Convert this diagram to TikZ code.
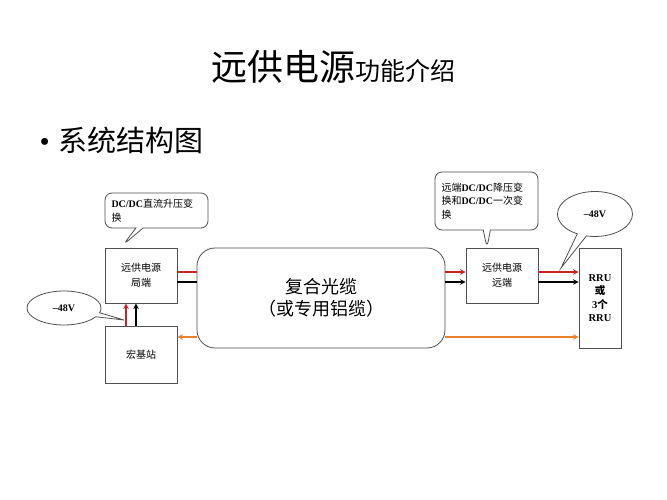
\documentclass[tikz,border=0pt]{standalone}
\usepackage{fontspec}
\setmainfont{Liberation Serif}
\newfontfamily\cjk{Noto Sans CJK SC}
\newcommand{\lat}[1]{{\rmfamily\bfseries #1}}
\usetikzlibrary{shapes.callouts,positioning}

\definecolor{cred}{RGB}{204,34,34}
\definecolor{corange}{RGB}{232,128,44}
\definecolor{cgray}{RGB}{80,80,80}

\begin{document}
\begin{tikzpicture}[x=1pt,y=-1pt,>=stealth,
    box/.style={draw=cgray,fill=white,line width=0.8pt,minimum width=72pt,
                minimum height=55pt,align=center,font=\cjk\fontsize{10}{15}\selectfont},
    cable/.style={draw=cgray,fill=white,line width=0.8pt,rounded corners=18pt,
                  minimum width=248pt,minimum height=100pt,align=center,
                  font=\cjk\fontsize{18}{22}\selectfont},
    note/.style={rectangle callout,draw=cgray,fill=white,line width=0.8pt,
                 rounded corners=7pt,align=left,inner sep=6pt,anchor=center,
                 font=\cjk\fontsize{10}{13.5}\selectfont},
    volt/.style={ellipse callout,draw=cgray,fill=white,line width=0.8pt,
                 font=\bfseries\fontsize{10}{12}\selectfont},
    redline/.style={draw=cred,line width=1.5pt},
    blackline/.style={draw=black,line width=1.5pt},
    orangeline/.style={draw=corange,line width=1.5pt}]
  \useasboundingbox (0,0) rectangle (667,500);

  % title
  \node (title) at (333,67) {\cjk\fontsize{36}{40}\selectfont 远供电源\fontsize{25}{28}\selectfont 功能介绍};
  \node[anchor=west] (head) at (36,140) {\fontsize{29}{32}\selectfont •\hspace{9pt}{\cjk 系统结构图}};

  % blocks
  \node[box] (ju) at (141,275.5) {远供电源\\局端};
  \node[box,minimum height=57pt] (hong) at (141,354.5) {宏基站};
  \node[cable] (cable) at (321,298) {复合光缆\\（或专用铝缆）};
  \node[box] (yuan) at (502,275.5) {远供电源\\远端};
  \node[box,minimum width=42pt,minimum height=100pt,font=\bfseries\fontsize{10.5}{13.5}\selectfont]
    (rru) at (600,298) {RRU\\{\cjk\bfseries 或}\\3{\cjk\bfseries 个}\\RRU};

  % helper points
  \coordinate (jr) at ([yshift=3.5pt]ju.east);
  \coordinate (jb) at ([yshift=-6.5pt]ju.east);
  \coordinate (yr) at ([yshift=3.5pt]yuan.east);
  \coordinate (yb) at ([yshift=-6.5pt]yuan.east);
  \coordinate (ho) at ([yshift=17.5pt]hong.east);
  \coordinate (hr) at ([xshift=-15pt]hong.north);
  \coordinate (hb) at ([xshift=-5pt]hong.north);

  % connectors
  \draw[redline] (jr) -- (jr -| cable.west);
  \draw[blackline] (jb) -- (jb -| cable.west);
  \draw[redline,->] (jr -| cable.east) -- (jr -| yuan.west);
  \draw[blackline,->] (jb -| cable.east) -- (jb -| yuan.west);
  \draw[redline,->] (yr) -- (yr -| rru.west);
  \draw[blackline,->] (yb) -- (yb -| rru.west);
  \draw[orangeline,->] (ho -| cable.west) -- (ho);
  \draw[orangeline,->] (ho -| cable.east) -- (ho -| rru.west);
  \draw[redline,->] (hr) -- (hr |- ju.south);
  \draw[blackline,->] (hb) -- (hb |- ju.south);

  % callouts
  \node[note,minimum width=103pt,minimum height=35pt,text width=90pt,
        callout absolute pointer={(123,245)}] (n1) at (156.5,210.5)
    {\lat{DC/DC}直流升压变\\换};
  \node[note,minimum width=103pt,minimum height=58pt,text width=90pt,
        callout absolute pointer={(487,248)}] (n2) at (486.5,201)
    {远端\lat{DC/DC}降压变\\换和\lat{DC/DC}一次变\\换};
  \node[volt,minimum width=74pt,minimum height=34pt,
        callout absolute pointer={(124,320)}] (v1) at (64,308) {–48V};
  \node[volt,minimum width=75pt,minimum height=45pt,
        callout absolute pointer={(561,268)}] (v2) at (595,214) {–48V};
\end{tikzpicture}
\end{document}
